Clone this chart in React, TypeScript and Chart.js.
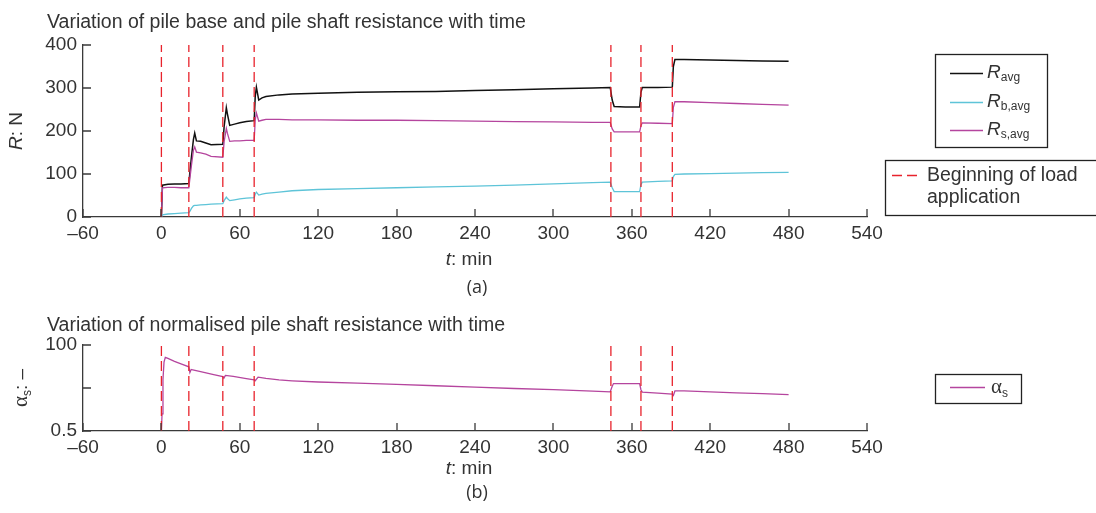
import React, { useEffect, useRef } from "react";
import { Chart, registerables } from "chart.js";

Chart.register(...registerables);

const FONT = '"Liberation Sans", Arial, Helvetica, sans-serif';
const SERIF = '"Liberation Serif", "DejaVu Serif", serif';
const CAPTION_FONT = '"Open Sans", "Noto Sans", sans-serif';
const TEXT = "#333333";
const AXIS = "#3a3a3a";

const titleTop = "Variation of pile base and pile shaft resistance with time";
const titleBottom = "Variation of normalised pile shaft resistance with time";
const legendSubs = ["avg", "b,avg", "s,avg"];
const loadLegendLines = ["Beginning of load", "application"];

// times (min) at which load steps begin
const loadTimes = [0, 21, 47, 71, 344, 367, 391];

const xTickValues = [-60, 0, 60, 120, 180, 240, 300, 360, 420, 480, 540];
const rTickValues = [0, 100, 200, 300, 400];
const alphaTickValues = [0.5, 0.75, 1.0];
const alphaTickLabels = ["0.5", "", "100"];

// top plot: time (min)
const tTop = [
  0, 0.8, 5, 10, 15, 21, 22, 23, 24.5, 25.5,
  26.8, 30, 34, 38, 47, 48, 49.7, 50.5, 52.3, 56,
  60, 65, 71, 71.8, 72.7, 74.5, 77, 80, 90, 100,
  120, 150, 180, 210, 240, 270, 300, 330, 343.5, 345,
  346.5, 355, 366, 367, 368, 380, 391, 391.8, 393, 400,
  420, 440, 460, 480,
];
// R_avg (N)
const rAvg = [
  0, 74, 76, 77, 77, 78, 110, 140, 180, 195,
  177, 176, 172, 168, 169, 210, 254, 240, 213, 216,
  219, 222, 224, 280, 302, 272, 277, 280, 284, 286,
  288, 290, 291, 292, 294, 296, 298, 300, 301, 272,
  257, 256, 256, 290, 301, 301, 302, 350, 366, 366,
  365, 364, 363, 362,
];
// R_b,avg (N)
const rB = [
  0, 5, 7, 8, 9, 10, 14, 20, 26, 27,
  27, 28, 29, 30, 31, 38, 46, 43, 38, 40,
  42, 44, 45, 53, 58, 51, 53, 55, 58, 61,
  64, 66, 68, 70, 72, 74, 77, 80, 81, 68,
  59, 59, 59, 75, 81, 83, 84, 94, 99, 100,
  101, 102, 103, 104,
];
// R_s,avg (N)
const rS = [
  0, 68, 69, 69, 68, 68, 95, 120, 155, 163,
  151, 149, 146, 141, 139, 175, 206, 195, 176, 177,
  177, 178, 178, 225, 242, 223, 225, 227, 227, 226,
  226, 225, 225, 224, 223, 222, 221, 220, 220, 205,
  198, 198, 198, 212, 219, 218, 217, 255, 268, 268,
  266, 264, 262, 260,
];

// bottom plot: time (min) and alpha_s
const tAlpha = [
  0, 0.5, 1.2, 2, 3, 5, 10, 15, 21, 21.8,
  22.8, 24, 30, 40, 47, 47.8, 49, 55, 65, 71,
  71.8, 74, 80, 90, 100, 120, 150, 180, 210, 240,
  270, 300, 330, 343.5, 345, 346, 355, 366, 367, 368,
  380, 391, 391.8, 393, 400, 420, 440, 460, 480,
];
const alphaS = [
  0.5, 0.6, 0.8, 0.9, 0.928, 0.922, 0.905, 0.89, 0.873, 0.84,
  0.858, 0.856, 0.845, 0.828, 0.816, 0.807, 0.823, 0.817, 0.805, 0.798,
  0.792, 0.813, 0.806, 0.797, 0.792, 0.785, 0.778, 0.771, 0.763, 0.755,
  0.747, 0.74, 0.732, 0.728, 0.76, 0.776, 0.776, 0.775, 0.74, 0.726,
  0.72, 0.714, 0.707, 0.733, 0.733, 0.727, 0.722, 0.717, 0.712,
];

const COLORS = {
  avg: "#111111",
  base: "#5ec4d8",
  shaft: "#b5459e",
  load: "#e8232c",
};

function pts(xs: number[], ys: number[]) {
  return xs.map((x, i) => ({ x, y: ys[i] }));
}

function loadLineDatasets(yMin: number, yMax: number) {
  return loadTimes.map((t) => ({
    label: "Beginning of load application",
    data: [
      { x: t, y: yMin },
      { x: t, y: yMax },
    ],
    borderColor: COLORS.load,
    borderWidth: 1.3,
    borderDash: [10, 5],
    pointRadius: 0,
    order: 0,
  }));
}

function xScaleOpts(height: number) {
  return {
    type: "linear" as const,
    min: -60,
    max: 540,
    afterBuildTicks: (s: any) => {
      s.ticks = xTickValues.map((v) => ({ value: v }));
    },
    afterFit: (s: any) => {
      s.height = height;
    },
    ticks: {
      font: { family: FONT, size: 19 },
      color: TEXT,
      padding: 5,
      autoSkip: false,
      maxRotation: 0,
      callback: (v: any) => (Number(v) < 0 ? "\u2013" + Math.abs(Number(v)) : String(v)),
    },
    grid: { display: false, drawTicks: false, tickLength: 0 },
    border: { display: true, color: AXIS, width: 1.3 },
  };
}

function yScaleOpts(min: number, max: number, values: number[], labels: string[] | null) {
  return {
    type: "linear" as const,
    min,
    max,
    afterBuildTicks: (s: any) => {
      s.ticks = values.map((v) => ({ value: v }));
    },
    afterFit: (s: any) => {
      s.width = 83;
    },
    ticks: {
      font: { family: FONT, size: 19 },
      color: TEXT,
      padding: 6,
      autoSkip: false,
      callback: (v: any) => {
        if (!labels) return String(v);
        const i = values.findIndex((x) => Math.abs(x - Number(v)) < 1e-9);
        return i >= 0 ? labels[i] : "";
      },
    },
    grid: { display: false, drawTicks: false, tickLength: 0 },
    border: { display: true, color: AXIS, width: 1.3 },
  };
}

type Part = { t: string; f: string; dy?: number };

function richWidth(ctx: CanvasRenderingContext2D, parts: Part[]) {
  let w = 0;
  for (const p of parts) {
    ctx.font = p.f;
    w += ctx.measureText(p.t).width;
  }
  return w;
}

function drawRich(ctx: CanvasRenderingContext2D, parts: Part[], x: number, y: number) {
  let cx = x;
  for (const p of parts) {
    ctx.font = p.f;
    ctx.fillText(p.t, cx, y + (p.dy || 0));
    cx += ctx.measureText(p.t).width;
  }
}

function drawRichCentered(ctx: CanvasRenderingContext2D, parts: Part[], cx: number, y: number) {
  const w = richWidth(ctx, parts);
  drawRich(ctx, parts, cx - w / 2, y);
}

function drawInTicks(chart: any, xs: number[], ys: number[]) {
  const ctx = chart.ctx as CanvasRenderingContext2D;
  const xsc = chart.scales.x;
  const ysc = chart.scales.y;
  const { left, bottom } = chart.chartArea;
  ctx.save();
  ctx.strokeStyle = AXIS;
  ctx.lineWidth = 1.3;
  ctx.beginPath();
  xs.forEach((v) => {
    const p = Math.round(xsc.getPixelForValue(v));
    ctx.moveTo(p, bottom);
    ctx.lineTo(p, bottom - 8);
  });
  ys.forEach((v) => {
    const p = Math.round(ysc.getPixelForValue(v));
    ctx.moveTo(left, p);
    ctx.lineTo(left + 8, p);
  });
  ctx.stroke();
  ctx.restore();
}

const topDecor = {
  id: "topDecor",
  afterDraw(chart: any) {
    const ctx = chart.ctx as CanvasRenderingContext2D;
    drawInTicks(chart, xTickValues, rTickValues);
    ctx.save();
    ctx.fillStyle = TEXT;
    ctx.textAlign = "left";
    ctx.textBaseline = "alphabetic";
    ctx.font = `19.5px ${FONT}`;
    ctx.fillText(titleTop, 47, 28);

    drawRichCentered(
      ctx,
      [
        { t: "t", f: `italic 19px ${FONT}` },
        { t: ": min", f: `19px ${FONT}` },
      ],
      469,
      265
    );
    ctx.font = `18px ${CAPTION_FONT}`;
    ctx.textAlign = "center";
    ctx.fillText("(a)", 477, 293);
    ctx.textAlign = "left";

    ctx.save();
    ctx.translate(22, 131);
    ctx.rotate(-Math.PI / 2);
    drawRichCentered(
      ctx,
      [
        { t: "R", f: `italic 19px ${FONT}` },
        { t: ": N", f: `19px ${FONT}` },
      ],
      0,
      0
    );
    ctx.restore();

    // legend 1
    ctx.strokeStyle = "#222";
    ctx.lineWidth = 1.3;
    ctx.setLineDash([]);
    ctx.strokeRect(935.5, 54.5, 112, 93);
    const cols = [COLORS.avg, COLORS.base, COLORS.shaft];
    const ys = [73, 102, 130];
    legendSubs.forEach((sub, i) => {
      const y = ys[i];
      ctx.strokeStyle = cols[i];
      ctx.lineWidth = i === 0 ? 1.5 : 1.3;
      ctx.beginPath();
      ctx.moveTo(950, y + 0.5);
      ctx.lineTo(983, y + 0.5);
      ctx.stroke();
      ctx.fillStyle = TEXT;
      drawRich(
        ctx,
        [
          { t: "R", f: `italic 19px ${FONT}` },
          { t: sub, f: `12px ${FONT}`, dy: 3 },
        ],
        987,
        y + 5
      );
    });

    // legend 2
    ctx.strokeStyle = "#222";
    ctx.lineWidth = 1.3;
    ctx.strokeRect(885.5, 160.5, 220, 55);
    ctx.strokeStyle = COLORS.load;
    ctx.setLineDash([10, 5]);
    ctx.beginPath();
    ctx.moveTo(892, 175.5);
    ctx.lineTo(918, 175.5);
    ctx.stroke();
    ctx.setLineDash([]);
    ctx.fillStyle = TEXT;
    ctx.font = `19.5px ${FONT}`;
    ctx.fillText(loadLegendLines[0], 927, 181);
    ctx.fillText(loadLegendLines[1], 927, 203);
    ctx.restore();
  },
};

const bottomDecor = {
  id: "bottomDecor",
  afterDraw(chart: any) {
    const ctx = chart.ctx as CanvasRenderingContext2D;
    drawInTicks(chart, xTickValues, alphaTickValues);
    ctx.save();
    ctx.fillStyle = TEXT;
    ctx.textAlign = "left";
    ctx.textBaseline = "alphabetic";
    ctx.font = `19.5px ${FONT}`;
    ctx.fillText(titleBottom, 47, 31);

    drawRichCentered(
      ctx,
      [
        { t: "t", f: `italic 19px ${FONT}` },
        { t: ": min", f: `19px ${FONT}` },
      ],
      469,
      174
    );
    ctx.font = `18px ${CAPTION_FONT}`;
    ctx.textAlign = "center";
    ctx.fillText("(b)", 477, 198);
    ctx.textAlign = "left";

    ctx.save();
    ctx.translate(27, 88);
    ctx.rotate(-Math.PI / 2);
    drawRichCentered(
      ctx,
      [
        { t: "\u03B1", f: `21px ${SERIF}` },
        { t: "s", f: `12px ${FONT}`, dy: 4 },
        { t: ": \u2013", f: `19px ${FONT}` },
      ],
      0,
      0
    );
    ctx.restore();

    // legend
    ctx.strokeStyle = "#222";
    ctx.lineWidth = 1.3;
    ctx.strokeRect(935.5, 74.5, 86, 29);
    ctx.strokeStyle = COLORS.shaft;
    ctx.beginPath();
    ctx.moveTo(950, 87.5);
    ctx.lineTo(985, 87.5);
    ctx.stroke();
    ctx.fillStyle = TEXT;
    drawRich(
      ctx,
      [
        { t: "\u03B1", f: `21px ${SERIF}` },
        { t: "s", f: `12px ${FONT}`, dy: 4 },
      ],
      991,
      93
    );
    ctx.restore();
  },
};

export default function App() {
  const topRef = useRef<HTMLCanvasElement>(null);
  const botRef = useRef<HTMLCanvasElement>(null);

  useEffect(() => {
    document.body.style.margin = "0";
    const common = {
      responsive: false,
      animation: false as const,
      events: [] as any[],
      plugins: {
        legend: { display: false },
        tooltip: { enabled: false },
        title: { display: false },
      },
      elements: { line: { tension: 0 }, point: { radius: 0 } },
    };

    const c1 = new Chart(topRef.current as HTMLCanvasElement, {
      type: "line",
      data: {
        datasets: [
          ...loadLineDatasets(0, 400),
          {
            label: "R_s,avg",
            data: pts(tTop, rS),
            borderColor: COLORS.shaft,
            borderWidth: 1.3,
            pointRadius: 0,
            order: 1,
          },
          {
            label: "R_b,avg",
            data: pts(tTop, rB),
            borderColor: COLORS.base,
            borderWidth: 1.3,
            pointRadius: 0,
            order: 2,
          },
          {
            label: "R_avg",
            data: pts(tTop, rAvg),
            borderColor: COLORS.avg,
            borderWidth: 1.5,
            pointRadius: 0,
            order: 3,
          },
        ] as any,
      },
      options: {
        ...common,
        layout: { padding: { left: 0, right: 229, top: 45, bottom: 0 } },
        scales: {
          x: xScaleOpts(83),
          y: yScaleOpts(0, 400, rTickValues, null),
        } as any,
      } as any,
      plugins: [topDecor],
    });

    const c2 = new Chart(botRef.current as HTMLCanvasElement, {
      type: "line",
      data: {
        datasets: [
          ...loadLineDatasets(0.5, 1.0),
          {
            label: "alpha_s",
            data: pts(tAlpha, alphaS),
            borderColor: COLORS.shaft,
            borderWidth: 1.3,
            pointRadius: 0,
            order: 1,
          },
        ] as any,
      },
      options: {
        ...common,
        layout: { padding: { left: 0, right: 229, top: 45, bottom: 0 } },
        scales: {
          x: xScaleOpts(82),
          y: yScaleOpts(0.5, 1.0, alphaTickValues, alphaTickLabels),
        } as any,
      } as any,
      plugins: [bottomDecor],
    });

    return () => {
      c1.destroy();
      c2.destroy();
    };
  }, []);

  return (
    <div style={{ position: "relative", width: 1096, height: 513, background: "#ffffff", overflow: "hidden" }}>
      <canvas
        ref={topRef}
        width={1096}
        height={300}
        style={{ position: "absolute", left: 0, top: 0, width: 1096, height: 300 }}
      />
      <canvas
        ref={botRef}
        width={1096}
        height={213}
        style={{ position: "absolute", left: 0, top: 300, width: 1096, height: 213 }}
      />
    </div>
  );
}
